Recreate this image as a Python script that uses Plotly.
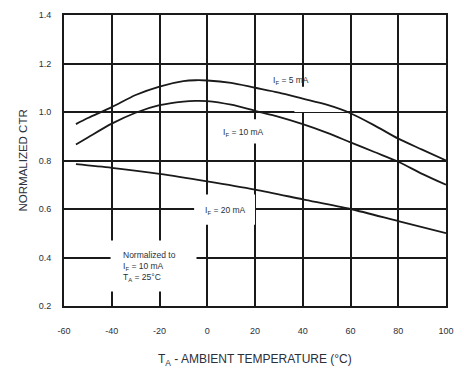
import plotly.graph_objects as go

# Ambient temperature (°C) sample points for each curve
temp_5ma = [-55, -50, -40, -30, -20, -10, -5, 0, 10, 20, 30, 40, 50, 60, 70, 80, 90, 100]
ctr_5ma = [0.95, 0.975, 1.02, 1.07, 1.105, 1.127, 1.131, 1.13, 1.12, 1.10, 1.08, 1.055, 1.03, 0.995, 0.945, 0.89, 0.845, 0.80]

temp_10ma = [-55, -50, -40, -30, -20, -10, -5, 0, 10, 20, 30, 40, 50, 60, 70, 80, 90, 100]
ctr_10ma = [0.866, 0.895, 0.952, 0.997, 1.028, 1.043, 1.046, 1.045, 1.03, 1.005, 0.98, 0.95, 0.915, 0.875, 0.835, 0.795, 0.745, 0.70]

temp_20ma = [-55, -40, -20, 0, 20, 40, 60, 80, 100]
ctr_20ma = [0.785, 0.77, 0.745, 0.714, 0.68, 0.64, 0.60, 0.55, 0.50]

x_ticks = [-60, -40, -20, 0, 20, 40, 60, 80, 100]
x_tick_labels = ["-60", "-40", "-20", "0", "20", "40", "60", "80", "100"]
y_ticks = [0.2, 0.4, 0.6, 0.8, 1.0, 1.2, 1.4]
y_tick_labels = ["0.2", "0.4", "0.6", "0.8", "1.0", "1.2", "1.4"]

INK = "#1a1a1a"
TXT = "#2b2f3a"
FONT = "Liberation Sans, Arial, sans-serif"

fig = go.Figure()
for xs, ys in [(temp_5ma, ctr_5ma), (temp_10ma, ctr_10ma), (temp_20ma, ctr_20ma)]:
    fig.add_trace(go.Scatter(
        x=xs, y=ys, mode="lines",
        line=dict(color=INK, width=1.8, shape="spline", smoothing=0.8),
        showlegend=False, hoverinfo="skip",
    ))

# white patches that break the grid behind the curve labels
gaps = [
    (36.5, 1.0, 58.0, 1.104),    # I_F = 5 mA
    (2.5, 0.87, 27.5, 0.97),     # I_F = 10 mA
    (-5.5, 0.535, 20.0, 0.66),   # I_F = 20 mA
    (-40.5, 0.26, -4.5, 0.47),   # normalization note
]
shapes = [
    dict(type="rect", xref="x", yref="y", x0=a, x1=b, y0=c, y1=d,
         fillcolor="white", line=dict(width=0), layer="between")
    for a, c, b, d in gaps
]

annotations = [
    dict(x=35.2, y=1.13, text="I<sub>F</sub> = 5 mA"),
    dict(x=15.3, y=0.914, text="I<sub>F</sub> = 10 mA"),
    dict(x=7.8, y=0.593, text="I<sub>F</sub> = 20 mA"),
]
annotations = [dict(a, xref="x", yref="y", showarrow=False,
                    font=dict(family=FONT, size=8.5, color=TXT)) for a in annotations]
annotations.append(dict(
    x=-36.0, y=0.362, xref="x", yref="y", xanchor="left", yanchor="middle",
    align="left", showarrow=False,
    text="Normalized to<br>I<sub>F</sub> = 10 mA<br>T<sub>A</sub> = 25°C",
    font=dict(family=FONT, size=8.5, color=TXT),
))
annotations.append(dict(
    x=0.5, y=0.0, xref="paper", yref="paper", xanchor="center", yanchor="top",
    yshift=-44, showarrow=False,
    text="T<sub>A</sub> - AMBIENT TEMPERATURE (°C)",
    font=dict(family=FONT, size=12, color=TXT),
))
annotations.append(dict(
    x=0.0, y=0.5, xref="paper", yref="paper", xanchor="center", yanchor="middle",
    xshift=-42, showarrow=False, textangle=-90,
    text="NORMALIZED CTR",
    font=dict(family=FONT, size=11.5, color=TXT),
))

axis_common = dict(
    showgrid=True, gridcolor=INK, gridwidth=1.9,
    showline=True, linecolor=INK, linewidth=2, mirror=True,
    zeroline=False, ticks="",
    tickfont=dict(family=FONT, size=9, color=TXT),
)

fig.update_layout(
    width=464, height=370,
    margin=dict(l=64, r=15, t=10, b=64),
    paper_bgcolor="white", plot_bgcolor="white",
    xaxis=dict(axis_common, range=[-60, 100], tickvals=x_ticks,
               ticktext=x_tick_labels, ticklabelstandoff=15),
    yaxis=dict(axis_common, range=[0.2, 1.4], tickvals=y_ticks,
               ticktext=y_tick_labels, ticklabelstandoff=9),
    shapes=shapes,
    annotations=annotations,
)

fig.write_html("out.html")
